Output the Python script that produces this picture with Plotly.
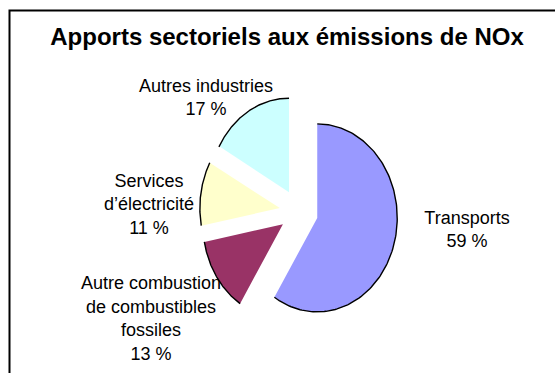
import numpy as np
import plotly.graph_objects as go

# Sector shares of NOx emissions (percent), clockwise from 12 o'clock
sectors = [
    "Transports",
    "Autre combustion<br>de combustibles<br>fossiles",
    "Services<br>d’électricité",
    "Autres industries",
]
shares = [59, 13, 11, 17]
colors = ["#9999FF", "#993366", "#FFFFCC", "#CCFFFF"]

# Label centres in page pixels
label_px = [(467, 231), (151, 320), (149, 206), (206, 99)]

W, H = 555, 373
CX, CY = 298.8, 211.6        # pie centre (px)
RX, RY = 80.0, 94.0          # horizontal / vertical radius (px)
EXPLODE = 0.24               # slice offset, in radius units
FONT = "Liberation Sans, Arial, sans-serif"

# axis ranges in pie units (radius = 1) so the pie sits at CX, CY
xr = [(0 - CX) / RX, (W - CX) / RX]
yr = [(CY - H) / RY, (CY - 0) / RY]


def px_to_unit(px, py):
    return (px - CX) / RX, (CY - py) / RY


fig = go.Figure()

# labels first so the slices sit above them
for name, val, (lx, ly) in zip(sectors, shares, label_px):
    ux, uy = px_to_unit(lx, ly)
    fig.add_trace(go.Scatter(
        x=[ux], y=[uy], mode="text",
        text=[f"{name}<br>{val} %"],
        textposition="middle center",
        textfont=dict(family=FONT, size=18, color="#000000"),
        hoverinfo="skip", showlegend=False,
    ))

total = float(sum(shares))
start = 0.0
for name, val, col in zip(sectors, shares, colors):
    span = 360.0 * val / total
    a0, a1 = start, start + span
    mid = np.radians((a0 + a1) / 2)
    ox, oy = EXPLODE * np.sin(mid), EXPLODE * np.cos(mid)
    th = np.radians(np.linspace(a0, a1, 160))
    ax_ = ox + np.sin(th)
    ay_ = oy + np.cos(th)
    # filled wedge
    fig.add_trace(go.Scatter(
        x=np.concatenate([[ox], ax_, [ox]]),
        y=np.concatenate([[oy], ay_, [oy]]),
        mode="lines", fill="toself", fillcolor=col,
        line=dict(width=0, color=col),
        hoverinfo="text", text=f"{val} %", showlegend=False,
    ))
    # outline along the outer arc
    fig.add_trace(go.Scatter(
        x=ax_, y=ay_, mode="lines",
        line=dict(width=1.4, color="#000000"),
        hoverinfo="skip", showlegend=False,
    ))
    start = a1

fig.update_layout(
    width=W, height=H,
    margin=dict(l=0, r=0, t=0, b=0),
    paper_bgcolor="#FFFFFF", plot_bgcolor="#FFFFFF",
    xaxis=dict(range=xr, visible=False, fixedrange=True),
    yaxis=dict(range=yr, visible=False, fixedrange=True),
    title=dict(
        text="<b>Apports sectoriels aux émissions de NOx</b>",
        x=287 / W, y=1 - 37 / H, xanchor="center", yanchor="middle",
        font=dict(family=FONT, size=24, color="#000000"),
    ),
    shapes=[dict(
        type="rect", xref="paper", yref="paper",
        x0=9.5 / W, x1=1.05, y0=-0.05, y1=1 - 10.5 / H,
        line=dict(color="#000000", width=2), fillcolor="rgba(0,0,0,0)",
        layer="above",
    )],
)

fig.write_html("out.html")
